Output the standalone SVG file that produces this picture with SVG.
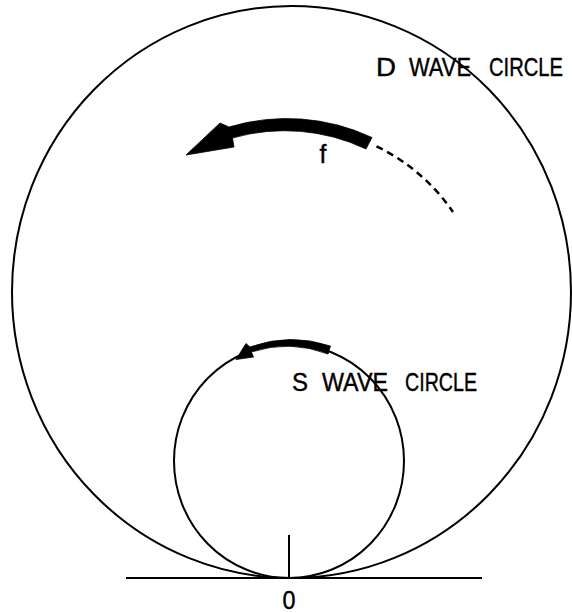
<svg xmlns="http://www.w3.org/2000/svg" width="572" height="613" viewBox="0 0 572 613">
<style>
.c{fill:none;stroke:#000;stroke-width:2}
.t{font-family:"Liberation Sans","DejaVu Sans",sans-serif;font-size:25px;fill:#000;stroke:#000;stroke-width:0.4}
.a{fill:#000;stroke:#000;stroke-width:0.8;stroke-linejoin:round}
</style>
<rect width="572" height="613" fill="#fff"/>
<g id="d-circle">
<ellipse class="c" cx="291.5" cy="292" rx="279.5" ry="286"/>
<text class="t" y="76"><tspan x="376" textLength="20" lengthAdjust="spacingAndGlyphs">D</tspan><tspan x="409" textLength="62" lengthAdjust="spacingAndGlyphs">WAVE</tspan><tspan x="489" textLength="74" lengthAdjust="spacingAndGlyphs">CIRCLE</tspan></text>
</g>
<g id="s-circle">
<ellipse class="c" cx="289" cy="461" rx="115" ry="117"/>
<text class="t" y="391"><tspan x="292" textLength="16" lengthAdjust="spacingAndGlyphs">S</tspan><tspan x="322" textLength="66" lengthAdjust="spacingAndGlyphs">WAVE</tspan><tspan x="405" textLength="72" lengthAdjust="spacingAndGlyphs">CIRCLE</tspan></text>
</g>
<g id="origin">
<line class="c" x1="126" y1="578" x2="482" y2="578"/>
<line class="c" x1="289" y1="535" x2="289" y2="578"/>
<text class="t" x="289" y="609" text-anchor="middle" font-size="23" textLength="13" lengthAdjust="spacingAndGlyphs">0</text>
</g>
<g id="connectors">
<path class="a" d="M372 137.5 A201 201 0 0 0 229 127 L220 123 L186 155 L234 147 L232.5 138 A190 190 0 0 1 366 149 Z"/>
<path d="M376.5 146.3 A196 196 0 0 1 453 212" fill="none" stroke="#000" stroke-width="2.5" stroke-dasharray="7 5"/>
<path class="a" d="M330.4 346 A122 122 0 0 0 249.9 347 L246 343.5 L236 359.5 L253.5 357 L251.3 352 A115 115 0 0 1 328.1 354 Z"/>
<text class="t" x="323" y="163" font-size="23" text-anchor="middle">f</text>
</g>
</svg>
